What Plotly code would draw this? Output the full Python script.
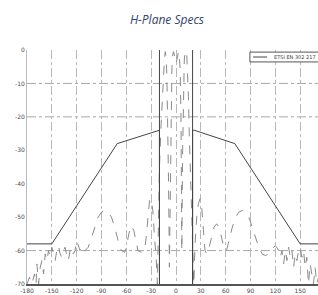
import plotly.graph_objects as go

# Measured H-plane pattern (angle in degrees, level in dB)
pattern_deg = [-180, -177, -174, -171, -169, -168, -166, -164, -162, -160, -158, -156, -154, -152, -150,
               -148, -146, -144, -142, -140, -138, -136, -134, -132, -130, -128, -126, -124, -122, -120,
               -118, -116, -114, -112, -110, -106, -102, -98, -94, -90, -86, -82, -78, -74, -70, -66,
               -62, -60, -57, -54, -51, -48, -46, -42, -38, -36, -34, -32, -30, -28, -26, -24, -22.5,
               -21, -20, -18, -16, -14, -13, -12, -11, -10, -9, -8, -7, -6, -5, -4, -3, -2, -1, 0,
               1, 2, 3, 4, 5, 6, 7, 8, 9, 10, 11, 12, 13, 14, 15, 16, 18, 20, 21.5, 23, 25, 27, 29,
               31, 33, 35, 37, 40, 43, 46, 49, 52, 55, 58, 61, 64, 68, 72, 76, 80, 84, 88, 92, 96,
               100, 104, 108, 112, 116, 120, 123, 126, 128, 130, 132, 134, 136, 138, 140, 142, 144,
               146, 148, 150, 152, 154, 156, 158, 160, 162, 164, 166, 168, 170, 172]
pattern_db = [-70, -68, -70, -67, -70, -64, -70, -65, -63, -67, -61, -63, -60, -62, -59,
              -61, -63, -60, -58.5, -61, -62, -60, -59, -61.5, -63, -60, -59, -61, -60, -57,
              -58.5, -60, -59, -60.5, -60, -59, -56, -53, -50, -48.5, -48, -48.5, -50, -53, -57, -60,
              -60.5, -59, -55, -52.5, -54, -57.5, -60, -60.5, -60, -56, -49, -45, -44.5, -48, -56, -62, -70,
              -50, -35, -22, -10, -3, -0.5, -2, -8, -20, -40, -65, -40, -18, -6, -1.5, -0.5, -1.5, -3, -4,
              -3, -1, -0.5, -2, -6, -20, -60, -30, -10, -3, -0.5, -0.3, -1.5, -6, -14, -25, -40, -55, -70,
              -58, -50, -46, -44.5,
              -47, -54, -60, -61, -59, -56, -53, -52, -53, -56, -59.5, -60, -57, -53, -50, -48.5, -48,
              -48.5, -50, -53, -56,
              -59, -61, -61.5, -61, -59.5, -58.5, -59.5, -62, -60, -64, -60, -63, -59, -62, -60, -65, -61,
              -63, -60, -59, -62, -60, -65, -62, -70, -64, -67, -70, -65, -70, -68]

# Specification mask
mask_deg = [-180, -150, -71, -22, -20, -20, -20, None, 20, 20, 20, 22, 71, 150, 180]
mask_db = [-58, -58, -28, -24, -24, -70, 0, None, 0, -70, -24, -24, -28, -58, -58]
mask_name = "ETSI EN 302 217"

x_ticks = [-180, -150, -120, -90, -60, -30, 0, 30, 60, 90, 120, 150, 180]
y_ticks = [0, -10, -20, -30, -40, -50, -60, -70]
grid_levels = [-10, -20, -60]

fig = go.Figure()
fig.add_trace(go.Scatter(x=pattern_deg, y=pattern_db, mode="lines",
                         line=dict(color="#8a8a8a", width=1, dash="dash"),
                         showlegend=False, name="Pattern"))
fig.add_trace(go.Scatter(x=mask_deg, y=mask_db, mode="lines",
                         line=dict(color="#444444", width=1),
                         name=mask_name, connectgaps=False, showlegend=False))

for lv in grid_levels:
    fig.add_shape(type="line", xref="paper", x0=0, x1=1, yref="y", y0=lv, y1=lv,
                  line=dict(color="#a8a8a8", width=1, dash="dashdot"), layer="below")

# compact legend box (top right, partly cut by the figure edge as in the reference)
fig.add_shape(type="rect", xref="paper", yref="paper", x0=0.766, x1=1.03, y0=0.949, y1=0.991,
              fillcolor="white", line=dict(color="#555555", width=1), layer="above")
fig.add_shape(type="line", xref="paper", yref="paper", x0=0.777, x1=0.825, y0=0.970, y1=0.970,
              line=dict(color="#444444", width=1), layer="above")
fig.add_annotation(xref="paper", yref="paper", x=0.843, y=0.970, xanchor="left", yanchor="middle",
                   text=mask_name, showarrow=False,
                   font=dict(size=5, color="#444444", family="DejaVu Sans"))

fig.update_layout(
    width=318, height=295,
    margin=dict(l=27, r=0, t=50, b=11, autoexpand=False),
    paper_bgcolor="white", plot_bgcolor="white", showlegend=False,
    title=dict(text="H-Plane Specs", x=0.525, xanchor="center", y=0.932, yanchor="middle",
               font=dict(family="Open Sans", size=12, color="#34446a", style="italic")),
    xaxis=dict(range=[-180, 171.5], tickvals=x_ticks, ticktext=[str(v) for v in x_ticks],
               showgrid=True, gridcolor="#b8b8b8", griddash="dashdot", gridwidth=1,
               zeroline=False, showline=True, linecolor="#555555", linewidth=1.5,
               ticks="", tickfont=dict(size=6, color="#4d4d4d", family="DejaVu Sans")),
    yaxis=dict(range=[-70, 0], tickvals=y_ticks, ticktext=[str(v) for v in y_ticks],
               showgrid=False, zeroline=False, showline=True, linecolor="#bbbbbb", linewidth=1,
               ticks="", tickfont=dict(size=6, color="#4d4d4d", family="DejaVu Sans")),
)

fig.write_html("out.html", config={"displayModeBar": False},
               post_script="document.body.style.margin='0';document.body.style.overflow='hidden';")
